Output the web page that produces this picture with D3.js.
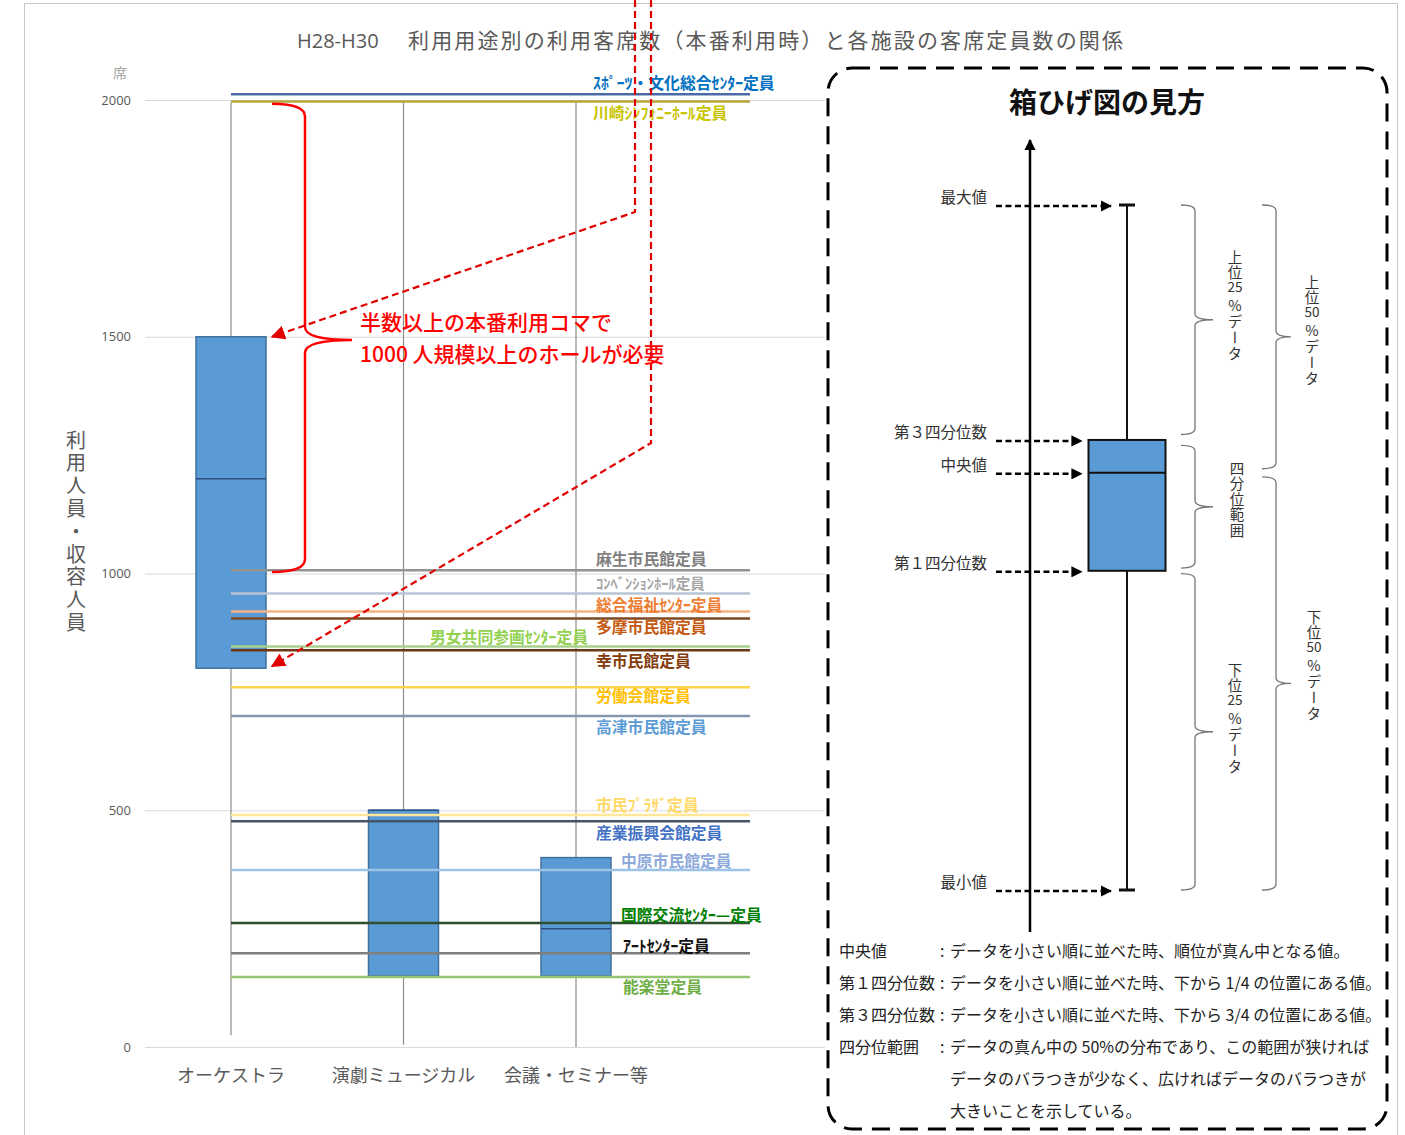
<!DOCTYPE html>
<html><head><meta charset="utf-8">
<script src="https://cdn.jsdelivr.net/npm/d3@7"></script>
<style>
html,body{margin:0;padding:0;background:#fff;}
svg{display:block;font-family:"Noto Sans CJK JP","Noto Sans",sans-serif;}
.vt{writing-mode:vertical-rl;text-orientation:upright;}
</style></head><body>
<svg id="chart" width="1405" height="1135"></svg>
<script>
// ---------------- DATA ----------------
const categories = ["オーケストラ", "演劇ミュージカル", "会議・セミナー等"];
const boxMin    = [25, 5, 0];
const boxQ1     = [800, 150, 150];
const boxMedian = [1200, 500, 250];
const boxQ3     = [1500, 500, 400];
const boxMax    = [1995, 1995, 1995];
const yTicks = [0, 500, 1000, 1500, 2000];

const facilityNames = [
  "ｽﾎﾟｰﾂ・文化総合ｾﾝﾀｰ定員", "川崎ｼﾝﾌｫﾆｰﾎｰﾙ定員", "麻生市民館定員", "ｺﾝﾍﾞﾝｼｮﾝﾎｰﾙ定員",
  "総合福祉ｾﾝﾀｰ定員", "多摩市民館定員", "男女共同参画ｾﾝﾀｰ定員", "幸市民館定員",
  "労働会館定員", "高津市民館定員", "市民ﾌﾟﾗｻﾞ定員", "産業振興会館定員",
  "中原市民館定員", "国際交流ｾﾝﾀｰ—定員", "ｱｰﾄｾﾝﾀｰ定員", "能楽堂定員"
];
const facilityCapacity = [2012, 1997, 1007, 958, 920, 905, 846, 838, 760, 699, 490, 477, 374, 262, 198, 148];

// explanatory diagram (schematic, in percent of range)
const legendStats = {min: 0, q1: 46.6, median: 60.9, q3: 65.7, max: 100};
const legendDefs = [
  ["中央値", "データを小さい順に並べた時、順位が真ん中となる値。"],
  ["第１四分位数", "データを小さい順に並べた時、下から 1/4 の位置にある値。"],
  ["第３四分位数", "データを小さい順に並べた時、下から 3/4 の位置にある値。"],
  ["四分位範囲", "データの真ん中の 50%の分布であり、この範囲が狭ければ"],
  ["", "データのバラつきが少なく、広ければデータのバラつきが"],
  ["", "大きいことを示している。"]
];

// ---------------- STYLE / LAYOUT ----------------
const lineColors  = ["#4a6aa8","#b4a83c","#939393","#b8c4d6","#f4b183","#7b4a22","#a9d18e","#6b3a14",
                     "#ffd54f","#8497b0","#ffe699","#44546a","#9dc3e6","#2f4f2f","#7f7f7f","#92c56e"];
const labelColors = ["#0070c0","#c9c400","#7f7f7f","#a6a6a6","#ed7d31","#c55a11","#92d050","#843c0c",
                     "#ffc000","#5b9bd5","#ffd966","#4472c4","#8eaadb","#008000","#111111","#70ad47"];
const labelX  = [593,593,596,596,596,596,430,596,596,596,596,596,621,621,623,623];
const labelDy = [-12,11,-12,-11,-7,8,-10,10,8,10,-10,11,-9,-8,-8,10];

const svg = d3.select("#chart");
const y = d3.scaleLinear().domain([0, 2000]).range([1047, 100]);
const x = d3.scalePoint().domain(categories).range([231, 576]);
const BOX_W = 70;
const grey = "#595959";

// outer frame
svg.append("rect").attr("x", 24.5).attr("y", 3.5).attr("width", 1373).attr("height", 1140)
  .attr("fill", "none").attr("stroke", "#c8c8c8").attr("stroke-width", 1);

// title
svg.append("text").attr("x", 297).attr("y", 48).attr("font-size", 20).attr("fill", grey)
  .attr("font-family", "'Open Sans','Noto Sans',sans-serif").text("H28-H30");
svg.append("text").attr("x", 408).attr("y", 48).attr("font-size", 21).attr("fill", grey)
  .attr("textLength", 715).attr("lengthAdjust", "spacing")
  .text("利用用途別の利用客席数（本番利用時）と各施設の客席定員数の関係");

// gridlines + y-axis labels
const gridG = svg.append("g");
gridG.selectAll("line").data(yTicks).join("line")
  .attr("x1", 145).attr("x2", 825)
  .attr("y1", d => y(d) + 0.5).attr("y2", d => y(d) + 0.5)
  .attr("stroke", "#d9d9d9").attr("stroke-width", 1);
const yAxis = d3.axisLeft(y).tickValues(yTicks).tickFormat(d3.format("d")).tickSize(0).tickPadding(0);
const yAxisG = svg.append("g").attr("transform", "translate(131,0)").call(yAxis);
yAxisG.select(".domain").remove();
yAxisG.selectAll("text").attr("font-size", 13).attr("fill", grey)
  .attr("font-family", "'Open Sans','Noto Sans',sans-serif");
svg.append("text").attr("x", 120).attr("y", 78).attr("text-anchor", "middle")
  .attr("font-size", 14).attr("fill", "#a6a6a6").text("席");

// y-axis title (vertical)
svg.append("text").attr("class", "vt").attr("x", 76).attr("y", 430)
  .attr("font-size", 20).attr("fill", grey).attr("letter-spacing", 2.8)
  .text("利用人員・収容人員");

// whiskers
svg.append("g").selectAll("line").data(categories).join("line")
  .attr("x1", d => x(d)).attr("x2", d => x(d))
  .attr("y1", (d, i) => y(boxMax[i])).attr("y2", (d, i) => y(boxMin[i]))
  .attr("stroke", "#8c8c8c").attr("stroke-width", 1.2);

// boxes
svg.append("g").selectAll("rect").data(categories).join("rect")
  .attr("x", d => x(d) - BOX_W / 2).attr("width", BOX_W)
  .attr("y", (d, i) => y(boxQ3[i])).attr("height", (d, i) => y(boxQ1[i]) - y(boxQ3[i]))
  .attr("fill", "#5b9bd5").attr("stroke", "#41719c").attr("stroke-width", 1.5);
svg.append("g").selectAll("line").data(categories).join("line")
  .attr("x1", d => x(d) - BOX_W / 2).attr("x2", d => x(d) + BOX_W / 2)
  .attr("y1", (d, i) => y(boxMedian[i])).attr("y2", (d, i) => y(boxMedian[i]))
  .attr("stroke", "#2f4f7f").attr("stroke-width", 1.5);

// facility capacity lines
svg.append("g").selectAll("line").data(facilityCapacity).join("line")
  .attr("x1", x(categories[0])).attr("x2", 750)
  .attr("y1", d => y(d)).attr("y2", d => y(d))
  .attr("stroke", (d, i) => lineColors[i]).attr("stroke-width", 2.5);
svg.append("g").selectAll("text").data(facilityNames).join("text")
  .attr("x", (d, i) => labelX[i])
  .attr("y", (d, i) => y(facilityCapacity[i]) + labelDy[i])
  .attr("dominant-baseline", "central")
  .attr("font-size", (d, i) => (i === 3 ? 14.5 : 15.8)).attr("font-weight", 700)
  .attr("fill", (d, i) => labelColors[i]).text(d => d);

// x-axis labels
svg.append("g").selectAll("text").data(categories).join("text")
  .attr("x", d => x(d)).attr("y", 1082).attr("text-anchor", "middle")
  .attr("font-size", 18).attr("fill", grey).text(d => d);

// ---------------- RED ANNOTATION ----------------
const defs = svg.append("defs");
defs.append("marker").attr("id", "redArrow").attr("viewBox", "0 0 10 10")
  .attr("refX", 9).attr("refY", 5).attr("markerWidth", 6.5).attr("markerHeight", 6.5)
  .attr("markerUnits", "strokeWidth").attr("orient", "auto")
  .append("path").attr("d", "M0,0 L10,5 L0,10 z").attr("fill", "#e00000");
defs.append("marker").attr("id", "blkArrow").attr("viewBox", "0 0 10 10")
  .attr("refX", 9).attr("refY", 5).attr("markerWidth", 4.5).attr("markerHeight", 4.5)
  .attr("markerUnits", "strokeWidth").attr("orient", "auto")
  .append("path").attr("d", "M0,0 L10,5 L0,10 z").attr("fill", "#000");

function bracePath(xv, y0, y1, ym, hookW, hookH, tipX) {
  return `M${xv - hookW},${y0} Q${xv},${y0} ${xv},${y0 + hookH} L${xv},${ym - hookH} ` +
         `Q${xv},${ym} ${tipX},${ym} Q${xv},${ym} ${xv},${ym + hookH} L${xv},${y1 - hookH} ` +
         `Q${xv},${y1} ${xv - hookW},${y1}`;
}
svg.append("path")
  .attr("d", bracePath(305, y(1992), y(1003), y(1493), 33, 13, 352))
  .attr("fill", "none").attr("stroke", "#ff0000").attr("stroke-width", 2.5);

const qX = x(categories[0]) + BOX_W / 2 + 6;
svg.append("path")
  .attr("d", `M635,0 L635,212 L${qX},${y(boxQ3[0])}`)
  .attr("fill", "none").attr("stroke", "#e00000").attr("stroke-width", 2.2)
  .attr("stroke-dasharray", "7,4").attr("marker-end", "url(#redArrow)");
svg.append("path")
  .attr("d", `M651,0 L651,443 L${qX},${y(boxQ1[0]) - 2}`)
  .attr("fill", "none").attr("stroke", "#e00000").attr("stroke-width", 2.2)
  .attr("stroke-dasharray", "7,4").attr("marker-end", "url(#redArrow)");

svg.append("text").attr("x", 360).attr("y", 330).attr("font-size", 21).attr("font-weight", 500)
  .attr("fill", "#ff0000").text("半数以上の本番利用コマで");
svg.append("text").attr("x", 360).attr("y", 362).attr("font-size", 21).attr("font-weight", 500)
  .attr("fill", "#ff0000").text("1000 人規模以上のホールが必要");

// ---------------- RIGHT PANEL ----------------
const panel = svg.append("g");
panel.append("rect").attr("x", 828).attr("y", 68).attr("width", 559).attr("height", 1061)
  .attr("rx", 24).attr("ry", 24).attr("fill", "#fff").attr("stroke", "#000")
  .attr("stroke-width", 3).attr("stroke-dasharray", "18,10");
panel.append("text").attr("x", 1107).attr("y", 113).attr("text-anchor", "middle")
  .attr("font-size", 28).attr("font-weight", 700).attr("fill", "#111").text("箱ひげ図の見方");

const ly = d3.scaleLinear().domain([0, 100]).range([890, 205]);
const LX = 1127, LBW = 77;
// axis arrow
panel.append("line").attr("x1", 1030).attr("x2", 1030).attr("y1", 932).attr("y2", 140)
  .attr("stroke", "#000").attr("stroke-width", 2.5).attr("marker-end", "url(#blkArrow)");
// whisker
panel.append("line").attr("x1", LX).attr("x2", LX).attr("y1", ly(legendStats.min)).attr("y2", ly(legendStats.max))
  .attr("stroke", "#111").attr("stroke-width", 2);
[legendStats.min, legendStats.max].forEach(v => {
  panel.append("line").attr("x1", LX - 8).attr("x2", LX + 8).attr("y1", ly(v)).attr("y2", ly(v))
    .attr("stroke", "#111").attr("stroke-width", 3);
});
panel.append("rect").attr("x", LX - LBW / 2).attr("width", LBW)
  .attr("y", ly(legendStats.q3)).attr("height", ly(legendStats.q1) - ly(legendStats.q3))
  .attr("fill", "#5b9bd5").attr("stroke", "#111").attr("stroke-width", 2);
panel.append("line").attr("x1", LX - LBW / 2).attr("x2", LX + LBW / 2)
  .attr("y1", ly(legendStats.median)).attr("y2", ly(legendStats.median))
  .attr("stroke", "#111").attr("stroke-width", 2);

const pointers = [
  ["最大値", legendStats.max, LX - 16],
  ["第３四分位数", legendStats.q3, LX - LBW / 2 - 7],
  ["中央値", legendStats.median, LX - LBW / 2 - 7],
  ["第１四分位数", legendStats.q1, LX - LBW / 2 - 7],
  ["最小値", legendStats.min, LX - 16]
];
pointers.forEach(([t, v, xe]) => {
  panel.append("text").attr("x", 987).attr("y", ly(v) - 2).attr("text-anchor", "end")
    .attr("font-size", 15.5).attr("fill", "#333").text(t);
  panel.append("line").attr("x1", 996).attr("x2", xe).attr("y1", ly(v) + 1).attr("y2", ly(v) + 1)
    .attr("stroke", "#000").attr("stroke-width", 2.5).attr("stroke-dasharray", "6,3.5")
    .attr("marker-end", "url(#blkArrow)");
});

// braces in panel
const bStroke = "#777";
function panelBrace(xv, v0, v1, tipLen) {
  const y0 = ly(v0), y1 = ly(v1), ym = (y0 + y1) / 2;
  panel.append("path").attr("d", bracePath(xv, y1, y0, ym, 14, 6, xv + tipLen))
    .attr("fill", "none").attr("stroke", bStroke).attr("stroke-width", 1.3);
}
panelBrace(1195, legendStats.q3 + 0.8, legendStats.max, 18);
panelBrace(1195, legendStats.q1 + 0.4, legendStats.q3 - 0.8, 18);
panelBrace(1195, legendStats.min, legendStats.q1 - 0.4, 18);
panelBrace(1276, legendStats.median + 0.6, legendStats.max, 15);
panelBrace(1276, legendStats.min, legendStats.median - 0.6, 15);

// vertical labels: [head, number, tail]
function vlabel(xc, yTop, head, num, tail) {
  const fs = 14.5;
  panel.append("text").attr("class", "vt").attr("x", xc).attr("y", yTop)
    .attr("font-size", fs).attr("fill", "#333").attr("letter-spacing", 1).text(head);
  let yy = yTop + head.length * (fs + 1);
  if (num) {
    panel.append("text").attr("x", xc).attr("y", yy + 11).attr("text-anchor", "middle")
      .attr("font-size", 13.5).attr("fill", "#333").text(num);
    yy += 17;
  }
  if (tail) {
    panel.append("text").attr("class", "vt").attr("x", xc).attr("y", yy)
      .attr("font-size", fs).attr("fill", "#333").attr("letter-spacing", 1.5).text(tail);
  }
}
vlabel(1235, 250, "上位", "25", "%データ");
vlabel(1237, 461, "四分位範囲", "", "");
vlabel(1235, 663, "下位", "25", "%データ");
vlabel(1312, 275, "上位", "50", "%データ");
vlabel(1314, 610, "下位", "50", "%データ");

// definitions text
legendDefs.forEach(([lab, txt], i) => {
  const yy = 957 + i * 32;
  if (lab) {
    panel.append("text").attr("x", 839).attr("y", yy).attr("font-size", 16).attr("fill", "#222").text(lab);
    panel.append("text").attr("x", 940).attr("y", yy).attr("font-size", 16).attr("fill", "#222").text(":");
  }
  panel.append("text").attr("x", 950).attr("y", yy).attr("font-size", 16).attr("fill", "#222").text(txt);
});
</script>
</body></html>
